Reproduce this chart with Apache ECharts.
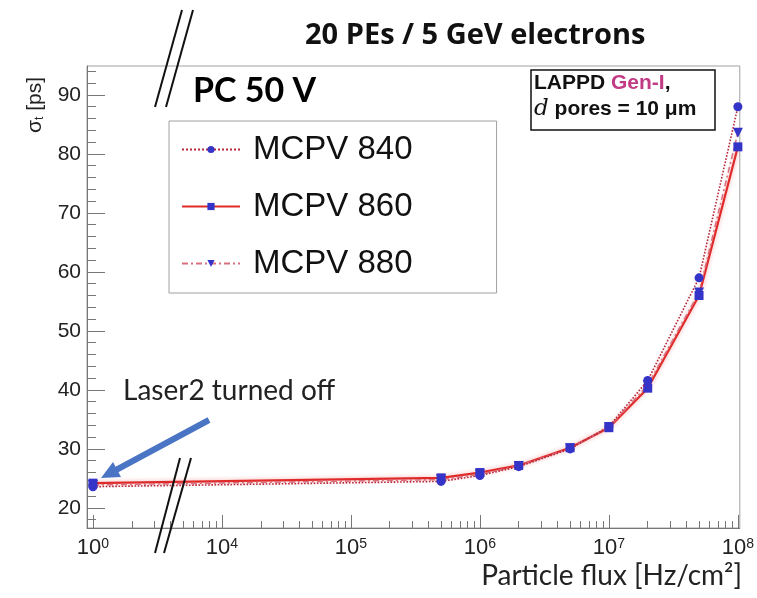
<!DOCTYPE html>
<html>
<head>
<meta charset="utf-8">
<script src="https://cdn.jsdelivr.net/npm/echarts@6/dist/echarts.min.js"></script>
<style>
html,body{margin:0;padding:0;background:#fff;}
#chart{width:757px;height:598px;}
</style>
</head>
<body>
<div id="chart"></div>
<script>
// particle flux [Hz/cm2]
var flux = [1, 5e5, 1e6, 2e6, 5e6, 1e7, 2e7, 5e7, 1e8];
// time resolution sigma_t [ps]
var mcpv840 = [23.6, 24.5, 25.5, 27.0, 30.0, 33.8, 41.6, 59.0, 88.0];
var mcpv860 = [24.2, 25.1, 26.0, 27.2, 30.2, 33.6, 40.3, 56.0, 81.2];
var mcpv880 = [23.9, 24.8, 25.7, 27.1, 30.1, 33.7, 40.8, 56.5, 83.6];
var seriesNames = ['MCPV 840', 'MCPV 860', 'MCPV 880'];

var xMajor = [0, 4, 5, 6, 7, 8];          // decade exponents shown
var yMajor = [20, 30, 40, 50, 60, 70, 80, 90];

// axis break: 10^0 .. 10^3 are squeezed, 10^0 sits where 10^3 would be
var BREAK_SHIFT = 3;
function pos(f) {
	var e = Math.log10(f);
	return e < BREAK_SHIFT ? e + BREAK_SHIFT : e;
}
function expOf(t) {
	return t <= BREAK_SHIFT ? Math.round(t - BREAK_SHIFT) : Math.round(t);
}

var xMajorPos = xMajor.map(function (e) { return e < BREAK_SHIFT ? e + BREAK_SHIFT : e; });
var xMinorPos = [];
for (var d = 3; d < 8; d++) {
	for (var k = 2; k <= 9; k++) xMinorPos.push(d + Math.log10(k));
}
var yMinor = [];
for (var v = 18; v < 95; v += 2) {
	if (v % 10 != 0) yMinor.push(v);
}

function pairs(vals) {
	return vals.map(function (y, i) { return [pos(flux[i]), y]; });
}

var X_MIN = 2.954, X_MAX = 8.015, Y_MIN = 16.6, Y_MAX = 94.9;
var markerColor = '#3434c8';
var sansFont = 'Liberation Sans';

var myChart = echarts.init(document.getElementById('chart'));
var option = {
	backgroundColor: '#fff',
	animation: false,
	grid: {left: 87, right: 15, top: 66, bottom: 70, show: true, borderColor: '#a0a0a0', borderWidth: 1},
	legend: {
		data: seriesNames,
		orient: 'vertical',
		left: 169, top: 121,
		padding: [12, 84, 13, 12],
		itemWidth: 58, itemHeight: 9, itemGap: 24,
		backgroundColor: '#fff',
		borderColor: '#a0a0a0', borderWidth: 1,
		textStyle: {fontSize: 33, fontFamily: sansFont, color: '#111', padding: [0, 0, 0, 8]}
	},
	xAxis: [{
		type: 'value', min: X_MIN, max: X_MAX,
		axisLine: {lineStyle: {color: '#777', width: 1}},
		axisTick: {inside: true, length: 13, customValues: xMajorPos, lineStyle: {color: '#777'}},
		axisLabel: {
			customValues: xMajorPos, margin: 9,
			formatter: function (t) { return '{b|10}{s|' + expOf(t) + '}'; },
			rich: {
				b: {fontSize: 22, fontFamily: sansFont, color: '#222'},
				s: {fontSize: 14, fontFamily: sansFont, color: '#222', verticalAlign: 'top'}
			}
		},
		splitLine: {show: false}
	}, {
		type: 'value', min: X_MIN, max: X_MAX, position: 'bottom',
		axisLine: {show: false},
		axisTick: {inside: true, length: 7, customValues: xMinorPos, lineStyle: {color: '#777'}},
		axisLabel: {show: false},
		splitLine: {show: false}
	}],
	yAxis: [{
		type: 'value', min: Y_MIN, max: Y_MAX,
		axisLine: {show: true, lineStyle: {color: '#777', width: 1}},
		axisTick: {show: true, inside: true, length: 18, customValues: yMajor, lineStyle: {color: '#777'}},
		axisLabel: {customValues: yMajor, margin: 6, fontSize: 21, fontFamily: sansFont, color: '#222'},
		splitLine: {show: false}
	}, {
		type: 'value', min: Y_MIN, max: Y_MAX, position: 'left',
		axisLine: {show: false},
		axisTick: {show: true, inside: true, length: 9, customValues: yMinor, lineStyle: {color: '#777'}},
		axisLabel: {show: false},
		splitLine: {show: false}
	}],
	series: [{
		name: seriesNames[0], type: 'line', data: pairs(mcpv840),
		symbol: 'circle', symbolSize: 9,
		itemStyle: {color: markerColor},
		lineStyle: {color: '#b8283c', width: 1.6, type: 'dotted'},
		z: 3
	}, {
		name: seriesNames[1], type: 'line', data: pairs(mcpv860),
		symbol: 'rect', symbolSize: 9,
		itemStyle: {color: markerColor},
		lineStyle: {color: '#e02a2a', width: 2.2, shadowColor: 'rgba(230,60,60,0.45)', shadowBlur: 4},
		z: 2
	}, {
		name: seriesNames[2], type: 'line', data: pairs(mcpv880),
		symbol: 'triangle', symbolRotate: 180, symbolSize: 10,
		itemStyle: {color: markerColor},
		lineStyle: {color: '#d8707e', width: 1.6, type: [6, 3, 2, 3]},
		z: 2
	}],
	graphic: [
		// title
		{type: 'text', left: 305, top: 21, z: 10,
			style: {text: '20 PEs / 5 GeV electrons', font: 'bold 29px "Open Sans"', fill: '#111'}},
		{type: 'text', left: 193, top: 74, z: 10,
			style: {text: 'PC 50 V', font: 'bold 34px Lato', fill: '#000'}},
		// y axis title
		{type: 'text', x: 35, y: 105, rotation: Math.PI / 2, z: 10,
			style: {
				text: '{a|σ}{t|t}{a| [ps]}', align: 'center', verticalAlign: 'middle',
				rich: {a: {fontSize: 21, fontFamily: sansFont, fill: '#222'},
					t: {fontSize: 12, fontFamily: sansFont, fill: '#222', verticalAlign: 'bottom'}}
			}},
		// x axis title
		{type: 'text', right: 15, top: 562, z: 10,
			style: {text: 'Particle flux [Hz/cm²]', font: '28px Lato', fill: '#222'}},
		// annotation box
		{type: 'rect', shape: {x: 531, y: 70, width: 184, height: 60}, z: 10,
			style: {fill: '#fff', stroke: '#111', lineWidth: 1.5}},
		{type: 'text', left: 534, top: 73, z: 11,
			style: {text: '{b|LAPPD }{m|Gen-I}{b|,}\n{i|d}{b| pores = 10 μm}',
				rich: {
					b: {fontSize: 21, fontWeight: 'bold', fontFamily: sansFont, fill: '#111', lineHeight: 26},
					m: {fontSize: 21, fontWeight: 'bold', fontFamily: sansFont, fill: '#c13a84', lineHeight: 26},
					i: {fontSize: 23, fontStyle: 'italic', fontFamily: 'DejaVu Serif', fill: '#111', lineHeight: 26}
				}}},
		// laser note + arrow
		{type: 'text', left: 123, top: 377, z: 10,
			style: {text: 'Laser2 turned off', font: '28px Lato', fill: '#222'}},
		{type: 'line', shape: {x1: 209, y1: 420, x2: 116, y2: 470}, z: 10,
			style: {stroke: '#4a74c4', lineWidth: 6}},
		{type: 'polygon', shape: {points: [[101, 478], [121, 477], [113, 462]]}, z: 10,
			style: {fill: '#4a74c4'}},
		// axis break marks
		{type: 'line', shape: {x1: 155, y1: 107, x2: 182, y2: 10}, z: 12, style: {stroke: '#111', lineWidth: 2}},
		{type: 'line', shape: {x1: 166, y1: 107, x2: 193, y2: 10}, z: 12, style: {stroke: '#111', lineWidth: 2}},
		{type: 'line', shape: {x1: 155, y1: 553, x2: 180, y2: 458}, z: 12, style: {stroke: '#111', lineWidth: 2}},
		{type: 'line', shape: {x1: 164, y1: 553, x2: 191, y2: 458}, z: 12, style: {stroke: '#111', lineWidth: 2}}
	]
};
myChart.setOption(option);
</script>
</body>
</html>
